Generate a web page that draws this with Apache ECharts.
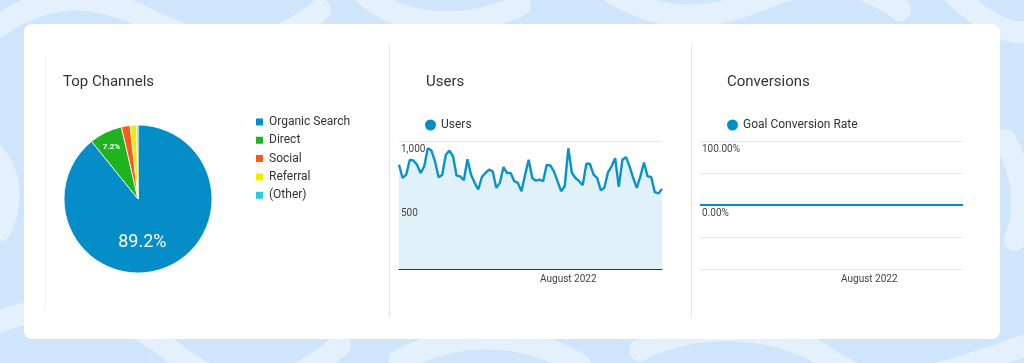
<!DOCTYPE html>
<html>
<head>
<meta charset="utf-8">
<script src="https://cdn.jsdelivr.net/npm/echarts@6/dist/echarts.min.js"></script>
<style>
  html, body { margin: 0; padding: 0; }
  body {
    width: 1024px; height: 363px; overflow: hidden; position: relative;
    background-color: #cfe5fb;
    background-image: url("data:image/svg+xml;utf8,<svg xmlns='http://www.w3.org/2000/svg' width='1024' height='363'><g fill='none' stroke='%23e4f1fd' stroke-width='22' stroke-linecap='round'><path d='M-20 40 C 40 -10, 90 -10, 150 20 S 260 60, 320 10'/><path d='M360 -10 C 400 30, 470 30, 520 5'/><path d='M600 -15 C 650 20, 700 25, 760 0 S 860 -20, 900 10'/><path d='M950 -10 C 980 20, 1010 40, 1040 30'/><path d='M-20 330 C 40 300, 110 300, 170 350 S 290 390, 340 345'/><path d='M400 360 C 460 330, 520 330, 580 365'/><path d='M640 350 C 700 320, 780 325, 830 360 S 930 380, 1040 340'/><path d='M-10 150 C 10 170, 15 200, 0 230'/><path d='M1005 140 C 1020 170, 1030 200, 1015 240'/></g></svg>");
    font-family: Roboto, "Liberation Sans", Arial, sans-serif;
  }
  #card { position: absolute; left: 24px; top: 24px; width: 976px; height: 315px; background: #fff; border-radius: 8px; }
  .div { position: absolute; width: 1px; background: #e4e4e4; }
  #chart { position: absolute; left: 0; top: 0; width: 1024px; height: 363px; }
</style>
</head>
<body>
<div id="card"></div>
<div class="div" style="left:45px;top:55px;height:255px;background:#f3f3f3"></div>
<div class="div" style="left:389px;top:45px;height:273px"></div>
<div class="div" style="left:691px;top:45px;height:273px"></div>
<div id="chart"></div>
<script>
// ---- Data ----
const pieNames = ['Organic Search', 'Direct', 'Social', 'Referral', '(Other)'];
const pieValues = [89.2, 7.2, 1.9, 1.4, 0.3];
const pieColors = ['#058dc7', '#1fb31f', '#fa5a1e', '#eeee00', '#24cbe5'];

const usersValues = [814,711,737,853,848,814,750,802,943,925,840,716,737,892,925,879,729,724,693,858,
  737,673,621,719,750,776,763,634,673,796,750,750,686,673,608,737,853,711,690,698,
  686,814,809,763,686,608,647,943,750,711,686,655,822,822,737,711,616,634,755,802,
  866,642,853,874,802,711,634,724,832,724,719,600,590,626];
const conversionValues = [0,0,0,0,0,0,0,0,0,0,0,0,0,0,0,0,0,0,0,0,
  0,0,0,0,0,0,0,0,0,0,0,0,0,0,0,0,0,0,0,0,
  0,0,0,0,0,0,0,0,0,0,0,0,0,0,0,0,0,0,0,0,
  0,0,0,0,0,0,0,0,0,0,0,0,0,0];
const categories = usersValues.map((v, i) => 'd' + i);
const xTickIndex = 47;
const xTickLabel = 'August 2022';
const usersTicks = { 0: '', 500: '500', 1000: '1,000' };
const convTicks = { '-1': '', '-0.5': '', '0': '0.00%', '0.5': '', '1': '100.00%' };

const FONT = 'Roboto, "Liberation Sans", Arial, sans-serif';
const titleStyle = { fontSize: 15, fontWeight: 'normal', color: '#333', fontFamily: FONT };
const axLabel = { fontSize: 10, color: '#444', fontFamily: FONT };
const legendText = { fontSize: 12, color: '#333', fontFamily: FONT };

const chart = echarts.init(document.getElementById('chart'), null, { renderer: 'canvas' });

const xAxisBase = (gi, showLine) => ({
  type: 'category', gridIndex: gi, data: categories, boundaryGap: false, z: 2,
  axisLine: { show: showLine, lineStyle: { color: '#333', width: 1 } },
  axisTick: { show: false },
  splitLine: { show: false },
  axisLabel: Object.assign({}, axLabel, {
    interval: (i) => i === xTickIndex,
    formatter: () => xTickLabel,
    margin: 5
  })
});

const yAxisBase = (gi, min, max, interval, ticks) => ({
  type: 'value', gridIndex: gi, min: min, max: max, interval: interval, z: 2,
  axisLine: { show: false }, axisTick: { show: false },
  splitLine: { lineStyle: { color: '#e8e8e8' } },
  axisLabel: Object.assign({}, axLabel, { inside: true, margin: 2, verticalAlign: 'top',
    padding: [3, 0, 0, 0], formatter: v => ticks[String(v)] })
});

chart.setOption({
  animation: false,
  title: [
    { text: 'Top Channels', left: 58, top: 70, textStyle: titleStyle },
    { text: 'Users', left: 421, top: 70, textStyle: titleStyle },
    { text: 'Conversions', left: 722, top: 70, textStyle: titleStyle }
  ],
  legend: [
    { orient: 'vertical', left: 249, top: 111, itemWidth: 9, itemHeight: 9, itemGap: 6.3,
      icon: 'rect', data: pieNames, selectedMode: false, textStyle: legendText },
    { left: 420, top: 114, itemWidth: 11, itemHeight: 11, icon: 'circle', data: ['Users'],
      selectedMode: false, textStyle: legendText },
    { left: 722, top: 114, itemWidth: 11, itemHeight: 11, icon: 'circle', data: ['Goal Conversion Rate'],
      selectedMode: false, textStyle: legendText }
  ],
  grid: [
    { left: 399, width: 263, top: 141, height: 128 },
    { left: 700, width: 263, top: 141, height: 128 }
  ],
  xAxis: [ xAxisBase(0, true), xAxisBase(1, false) ],
  yAxis: [
    yAxisBase(0, 0, 1000, 500, usersTicks),
    yAxisBase(1, -1, 1, 0.5, convTicks)
  ],
  series: [
    {
      type: 'pie', center: [138, 199], radius: 74, startAngle: 90, clockwise: true,
      legendHoverLink: false,
      itemStyle: { borderColor: '#fff', borderWidth: 0.8 },
      data: pieNames.map((n, i) => ({
        name: n, value: pieValues[i], itemStyle: { color: pieColors[i] },
        label: i === 0 ? { show: true, fontSize: 18, color: '#fff' }
             : i === 1 ? { show: true, fontSize: 8, fontWeight: 'bold', color: '#fff' }
             : { show: false }
      })),
      label: { position: 'inside', fontFamily: FONT, formatter: p => p.value.toFixed(1) + '%' },
      labelLine: { show: false },
      labelLayout: p => p.dataIndex === 0 ? { dx: -9, dy: 6 } : p.dataIndex === 1 ? { dx: -9, dy: -16 } : {}
    },
    {
      name: 'Users area', type: 'line', xAxisIndex: 0, yAxisIndex: 0, data: usersValues, z: 1,
      showSymbol: false, symbol: 'none', lineStyle: { width: 0, opacity: 0 },
      areaStyle: { color: '#e1f1f9', opacity: 1 }, silent: true
    },
    {
      name: 'Users', type: 'line', xAxisIndex: 0, yAxisIndex: 0, data: usersValues, z: 3,
      showSymbol: false, symbol: 'circle', color: '#058dc7',
      lineStyle: { width: 2.4, color: '#0893c9' }
    },
    {
      name: 'Goal Conversion Rate', type: 'line', xAxisIndex: 1, yAxisIndex: 1, data: conversionValues, z: 3,
      showSymbol: false, symbol: 'circle', color: '#058dc7',
      lineStyle: { width: 2, color: '#0a8ab5' }
    }
  ]
});
</script>
</body>
</html>
